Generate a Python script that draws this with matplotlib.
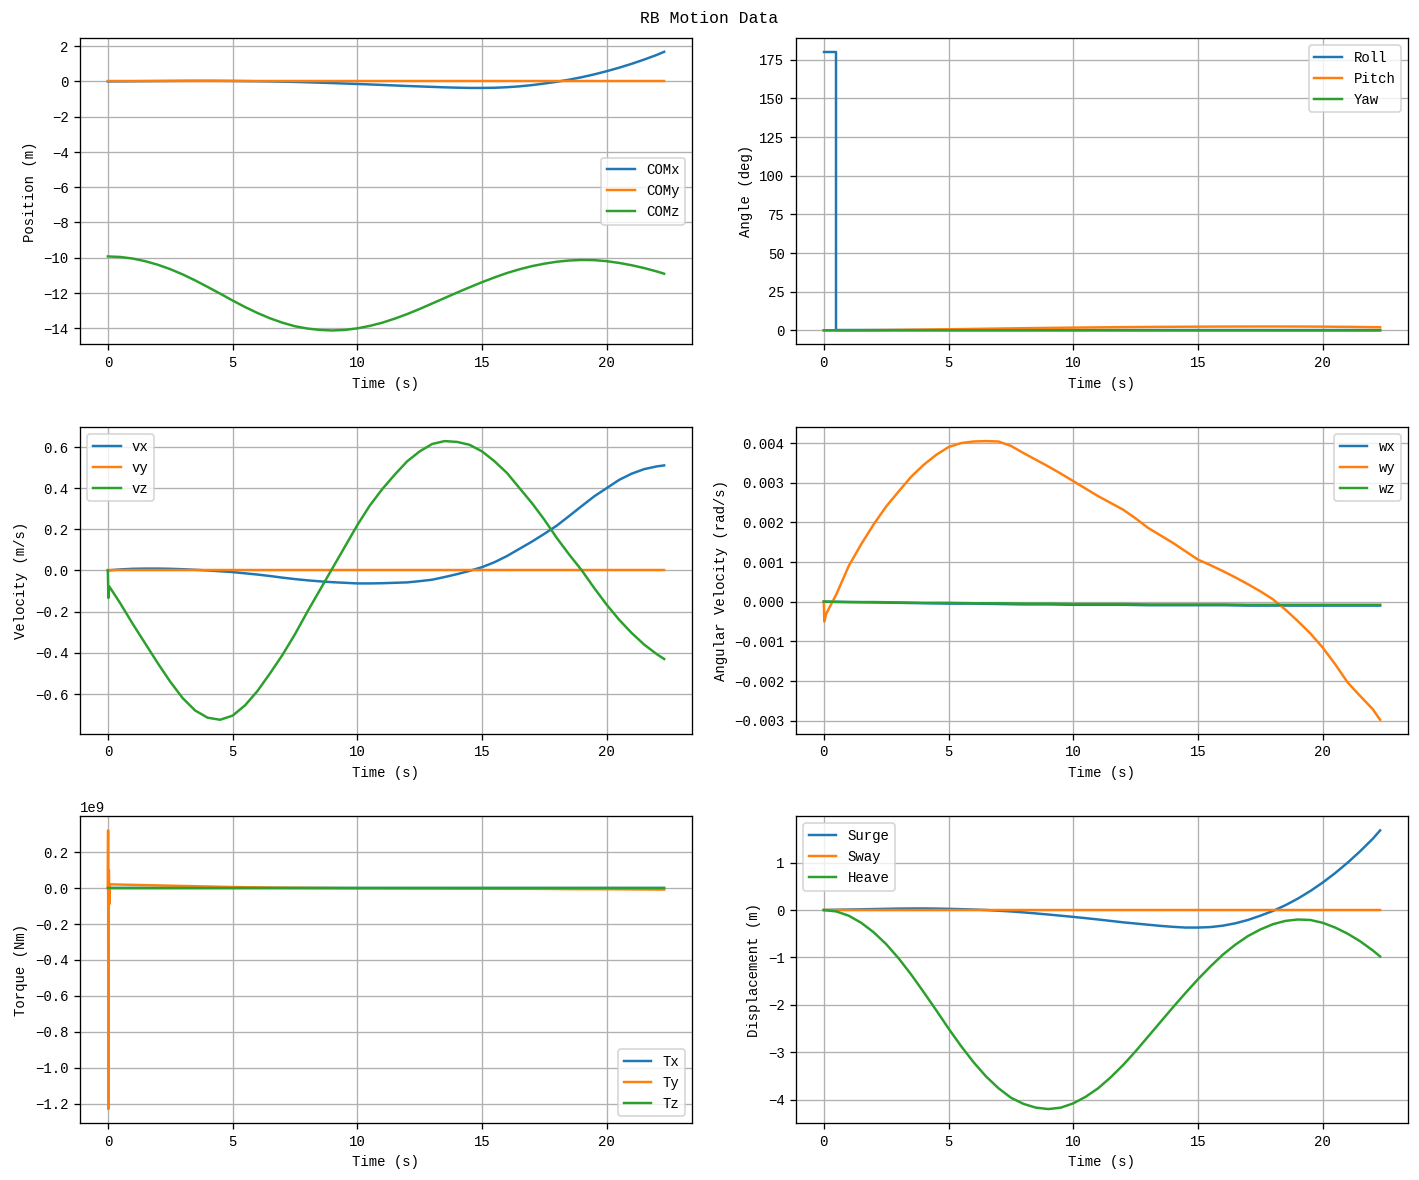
import matplotlib
matplotlib.use("Agg")
import matplotlib.pyplot as plt

plt.rcParams["font.family"] = ["Liberation Mono", "DejaVu Sans Mono"]
plt.rcParams["font.size"] = 8.5

# coarse sample times (s), for the nearly flat series
sec = [0, 1, 2, 3, 4, 5, 6, 7, 8, 9, 10, 11, 12, 13, 14, 15, 16, 17, 18, 19, 20, 21, 22, 22.3]
# half second sample times (s), for the curved series
time = [0, 0.5, 1, 1.5, 2, 2.5, 3, 3.5, 4, 4.5, 5, 5.5, 6, 6.5, 7, 7.5, 8, 8.5, 9, 9.5,
        10, 10.5, 11, 11.5, 12, 12.5, 13, 13.5, 14, 14.5, 15, 15.5, 16, 16.5, 17, 17.5,
        18, 18.5, 19, 19.5, 20, 20.5, 21, 21.5, 22, 22.3]

# centre of mass position (m)
com_x = [0, 0.005, 0.01, 0.015, 0.02, 0.025, 0.03, 0.032, 0.033, 0.03, 0.025, 0.018,
         0.01, 0.0, -0.015, -0.03, -0.05, -0.072, -0.095, -0.12, -0.145, -0.172, -0.2,
         -0.23, -0.26, -0.285, -0.31, -0.335, -0.355, -0.37, -0.37, -0.36, -0.33, -0.28,
         -0.21, -0.12, -0.02, 0.1, 0.24, 0.4, 0.58, 0.78, 1.0, 1.24, 1.5, 1.68]
com_y = [0] * 24
com_z = [-9.93, -9.96, -10.05, -10.2, -10.4, -10.65, -10.95, -11.29, -11.66, -12.04,
         -12.43, -12.8, -13.14, -13.44, -13.69, -13.89, -14.02, -14.1, -14.13, -14.1,
         -14.01, -13.87, -13.69, -13.46, -13.2, -12.91, -12.6, -12.29, -11.98, -11.68,
         -11.39, -11.12, -10.87, -10.66, -10.48, -10.34, -10.23, -10.16, -10.13, -10.14,
         -10.2, -10.3, -10.43, -10.59, -10.78, -10.91]

# euler angles (deg)
roll_t = [0, 0.5, 0.5, 22.3]
roll = [180, 180, 0, 0]
pitch = [0, 0.05, 0.15, 0.3, 0.5, 0.7, 0.92, 1.15, 1.38, 1.58, 1.77, 1.93, 2.08, 2.2,
         2.3, 2.38, 2.44, 2.47, 2.48, 2.46, 2.39, 2.26, 2.07, 2.0]
yaw = [0, 0, 0, 0, -0.01, -0.01, -0.02, -0.02, -0.03, -0.03, -0.04, -0.04, -0.05, -0.05,
       -0.05, -0.06, -0.06, -0.06, -0.07, -0.07, -0.07, -0.08, -0.08, -0.08]

# linear velocity (m/s)
vx = [0, 0.005, 0.008, 0.009, 0.009, 0.008, 0.006, 0.003, 0.0, -0.004, -0.008, -0.014,
      -0.02, -0.027, -0.035, -0.042, -0.048, -0.053, -0.057, -0.06, -0.063, -0.063,
      -0.062, -0.06, -0.058, -0.052, -0.045, -0.032, -0.018, -0.002, 0.016, 0.04, 0.07,
      0.105, 0.14, 0.178, 0.218, 0.265, 0.313, 0.36, 0.4, 0.44, 0.47, 0.492, 0.505, 0.51]
vy = [0] * 24
vz_t = [0, 0.02, 0.06, 0.5, 1, 1.5, 2, 2.5, 3, 3.5, 4, 4.5, 5, 5.5, 6, 6.5, 7, 7.5, 8,
        8.5, 9, 9.5, 10, 10.5, 11, 11.5, 12, 12.5, 13, 13.5, 14, 14.5, 15, 15.5, 16, 16.5,
        17, 17.5, 18, 18.5, 19, 19.5, 20, 20.5, 21, 21.5, 22, 22.3]
vz = [0, -0.134, -0.078, -0.16, -0.26, -0.355, -0.45, -0.54, -0.62, -0.68, -0.715, -0.725,
      -0.705, -0.655, -0.585, -0.5, -0.41, -0.31, -0.2, -0.095, 0.01, 0.115, 0.22, 0.315,
      0.395, 0.465, 0.53, 0.578, 0.614, 0.628, 0.624, 0.61, 0.578, 0.53, 0.473, 0.4,
      0.327, 0.246, 0.157, 0.076, 0.0, -0.086, -0.167, -0.24, -0.304, -0.36, -0.406, -0.43]

# angular velocity (rad/s)
wx = [0, -0.00001, -0.00002, -0.00003, -0.00004, -0.00005, -0.00005, -0.00006, -0.00007,
      -0.00007, -0.00008, -0.00008, -0.00008, -0.00009, -0.00009, -0.00009, -0.00009,
      -0.0001, -0.0001, -0.0001, -0.0001, -0.0001, -0.0001, -0.0001]
wy_t = [0, 0.02, 0.1, 0.5, 1, 1.5, 2, 2.5, 3, 3.5, 4, 4.5, 5, 5.5, 6, 6.5, 7, 7.5, 8,
        8.5, 9, 9.5, 10, 10.5, 11, 11.5, 12, 12.5, 13, 13.5, 14, 14.5, 15, 15.5, 16, 16.5,
        17, 17.5, 18, 18.5, 19, 19.5, 20, 20.5, 21, 21.5, 22, 22.3]
wy = [0, -0.0005, -0.0003, 0.00018, 0.0009, 0.00145, 0.00195, 0.0024, 0.00278, 0.00315,
      0.00345, 0.0037, 0.0039, 0.004, 0.00404, 0.00405, 0.00404, 0.00393, 0.00375,
      0.00358, 0.00341, 0.00323, 0.00304, 0.00285, 0.00266, 0.00249, 0.00232, 0.0021,
      0.00186, 0.00167, 0.00148, 0.00127, 0.00106, 0.00092, 0.00077, 0.00061, 0.00044,
      0.00026, 0.00006, -0.0002, -0.00049, -0.0008, -0.00116, -0.00158, -0.00204,
      -0.00238, -0.00271, -0.00298]
wz = [0, -0.00001, -0.00001, -0.00002, -0.00003, -0.00003, -0.00004, -0.00004, -0.00005,
      -0.00005, -0.00006, -0.00006, -0.00006, -0.00007, -0.00007, -0.00007, -0.00007,
      -0.00008, -0.00008, -0.00008, -0.00008, -0.00008, -0.00008, -0.00008]

# torque (Nm)
tx = [0] * 24
ty_t = [0, 0.01, 0.02, 0.04, 0.06, 0.08, 1, 2, 3, 4, 5, 6, 7, 8, 9, 10, 11, 12, 13, 14,
        15, 16, 17, 18, 19, 20, 21, 22, 22.3]
ty = [0, 0.32e9, -1.23e9, 0.1e9, -0.09e9, 0.02e9, 0.017e9, 0.014e9, 0.011e9, 0.008e9,
      0.005e9, 0.003e9, 0.001e9, 0, -0.001e9, -0.002e9, -0.002e9, -0.003e9, -0.003e9,
      -0.004e9, -0.004e9, -0.005e9, -0.005e9, -0.006e9, -0.007e9, -0.007e9, -0.008e9,
      -0.009e9, -0.009e9]
tz = [0] * 24

# displacement (m)
surge = com_x
sway = [0] * 24
heave = [0, -0.03, -0.12, -0.27, -0.47, -0.72, -1.02, -1.36, -1.73, -2.11, -2.5, -2.87,
         -3.21, -3.51, -3.76, -3.96, -4.09, -4.17, -4.2, -4.17, -4.08, -3.94, -3.76,
         -3.53, -3.27, -2.98, -2.67, -2.36, -2.05, -1.75, -1.46, -1.19, -0.94, -0.73,
         -0.55, -0.41, -0.3, -0.23, -0.2, -0.21, -0.27, -0.37, -0.5, -0.66, -0.85, -0.98]


fig, axes = plt.subplots(3, 2, figsize=(12, 9.98), dpi=118.25)
fig.subplots_adjust(left=0.0564, right=0.9922, top=0.9678, bottom=0.0483,
                    wspace=0.17, hspace=0.27)
fig.suptitle("RB Motion Data", fontsize=10, y=0.991)

ax = axes[0, 0]
ax.plot(time, com_x, label="COMx")
ax.plot(sec, com_y, label="COMy")
ax.plot(time, com_z, label="COMz")
ax.set_xlabel("Time (s)")
ax.set_ylabel("Position (m)")
ax.legend(loc="center right")
ax.grid(True)

ax = axes[0, 1]
ax.plot(roll_t, roll, label="Roll")
ax.plot(sec, pitch, label="Pitch")
ax.plot(sec, yaw, label="Yaw")
ax.set_xlabel("Time (s)")
ax.set_ylabel("Angle (deg)")
ax.legend(loc="upper right")
ax.grid(True)

ax = axes[1, 0]
ax.plot(time, vx, label="vx")
ax.plot(sec, vy, label="vy")
ax.plot(vz_t, vz, label="vz")
ax.set_xlabel("Time (s)")
ax.set_ylabel("Velocity (m/s)")
ax.legend(loc="upper left")
ax.grid(True)

ax = axes[1, 1]
ax.plot(sec, wx, label="wx")
ax.plot(wy_t, wy, label="wy")
ax.plot(sec, wz, label="wz")
ax.set_xlabel("Time (s)")
ax.set_ylabel("Angular Velocity (rad/s)")
ax.legend(loc="upper right")
ax.grid(True)

ax = axes[2, 0]
ax.plot(sec, tx, label="Tx")
ax.plot(ty_t, ty, label="Ty")
ax.plot(sec, tz, label="Tz")
ax.set_xlabel("Time (s)")
ax.set_ylabel("Torque (Nm)")
ax.legend(loc="lower right")
ax.grid(True)

ax = axes[2, 1]
ax.plot(time, surge, label="Surge")
ax.plot(sec, sway, label="Sway")
ax.plot(time, heave, label="Heave")
ax.set_xlabel("Time (s)")
ax.set_ylabel("Displacement (m)")
ax.legend(loc="upper left")
ax.grid(True)

fig.savefig("out.png", dpi=118.25)
